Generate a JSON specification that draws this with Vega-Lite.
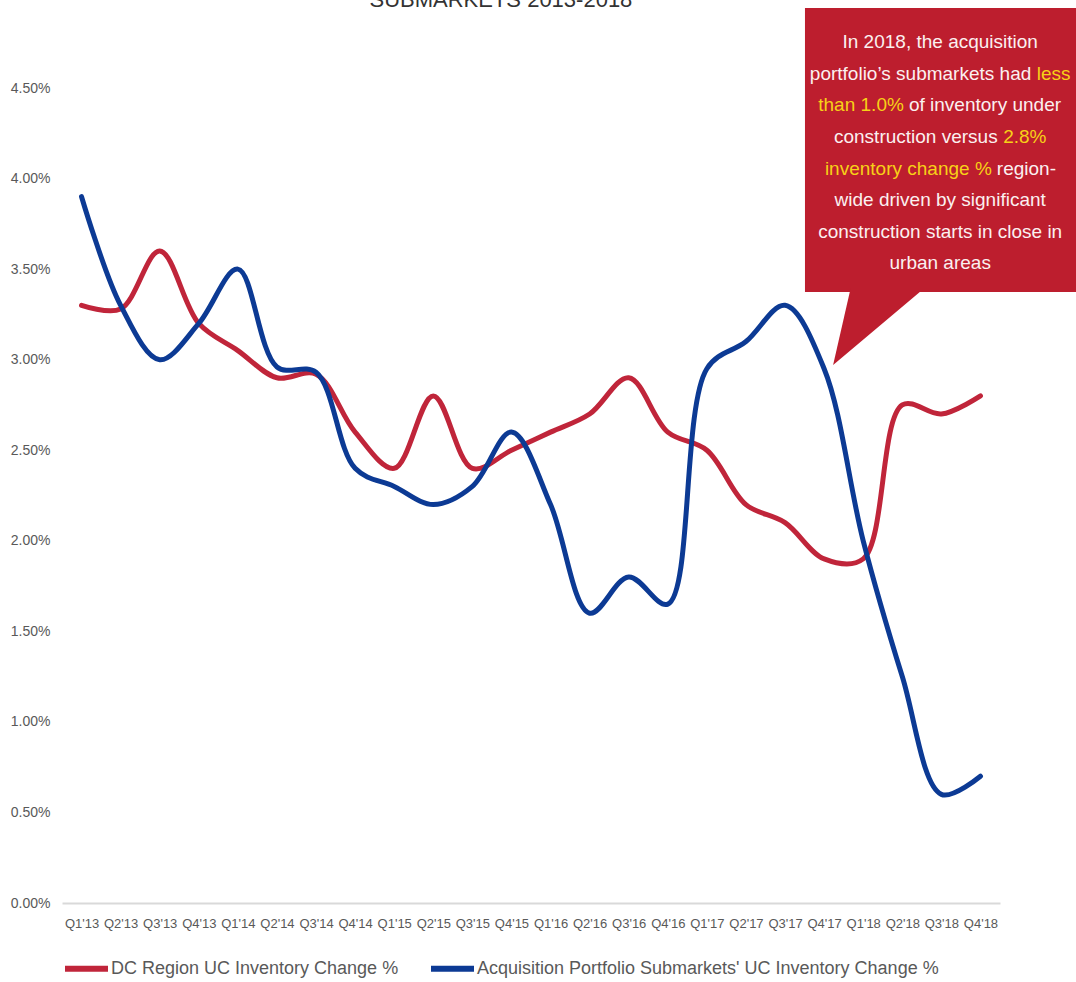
{
  "$schema": "https://vega.github.io/schema/vega-lite/v6.json",
  "width": 938,
  "height": 815,
  "autosize": {"type": "none"},
  "padding": {"left": 62, "top": 88, "right": 76, "bottom": 79},
  "background": "white",
  "config": {"view": {"stroke": null}, "font": "Liberation Sans"},
  "datasets": {
    "series": [
      {"quarter": "Q1'13", "i": 0, "series": "DC Region UC Inventory Change %", "value": 0.0330},
      {"quarter": "Q2'13", "i": 1, "series": "DC Region UC Inventory Change %", "value": 0.0328},
      {"quarter": "Q3'13", "i": 2, "series": "DC Region UC Inventory Change %", "value": 0.0360},
      {"quarter": "Q4'13", "i": 3, "series": "DC Region UC Inventory Change %", "value": 0.0320},
      {"quarter": "Q1'14", "i": 4, "series": "DC Region UC Inventory Change %", "value": 0.0305},
      {"quarter": "Q2'14", "i": 5, "series": "DC Region UC Inventory Change %", "value": 0.0290},
      {"quarter": "Q3'14", "i": 6, "series": "DC Region UC Inventory Change %", "value": 0.0292},
      {"quarter": "Q4'14", "i": 7, "series": "DC Region UC Inventory Change %", "value": 0.0260},
      {"quarter": "Q1'15", "i": 8, "series": "DC Region UC Inventory Change %", "value": 0.0240},
      {"quarter": "Q2'15", "i": 9, "series": "DC Region UC Inventory Change %", "value": 0.0280},
      {"quarter": "Q3'15", "i": 10, "series": "DC Region UC Inventory Change %", "value": 0.0240},
      {"quarter": "Q4'15", "i": 11, "series": "DC Region UC Inventory Change %", "value": 0.0250},
      {"quarter": "Q1'16", "i": 12, "series": "DC Region UC Inventory Change %", "value": 0.0260},
      {"quarter": "Q2'16", "i": 13, "series": "DC Region UC Inventory Change %", "value": 0.0270},
      {"quarter": "Q3'16", "i": 14, "series": "DC Region UC Inventory Change %", "value": 0.0290},
      {"quarter": "Q4'16", "i": 15, "series": "DC Region UC Inventory Change %", "value": 0.0260},
      {"quarter": "Q1'17", "i": 16, "series": "DC Region UC Inventory Change %", "value": 0.0250},
      {"quarter": "Q2'17", "i": 17, "series": "DC Region UC Inventory Change %", "value": 0.0220},
      {"quarter": "Q3'17", "i": 18, "series": "DC Region UC Inventory Change %", "value": 0.0210},
      {"quarter": "Q4'17", "i": 19, "series": "DC Region UC Inventory Change %", "value": 0.0190},
      {"quarter": "Q1'18", "i": 20, "series": "DC Region UC Inventory Change %", "value": 0.0190},
      {"quarter": "Q2'18", "i": 21, "series": "DC Region UC Inventory Change %", "value": 0.0275},
      {"quarter": "Q3'18", "i": 22, "series": "DC Region UC Inventory Change %", "value": 0.0270},
      {"quarter": "Q4'18", "i": 23, "series": "DC Region UC Inventory Change %", "value": 0.0280},
      {"quarter": "Q1'13", "i": 0, "series": "Acquisition Portfolio Submarkets'  UC Inventory Change %", "value": 0.0390},
      {"quarter": "Q2'13", "i": 1, "series": "Acquisition Portfolio Submarkets'  UC Inventory Change %", "value": 0.0330},
      {"quarter": "Q3'13", "i": 2, "series": "Acquisition Portfolio Submarkets'  UC Inventory Change %", "value": 0.0300},
      {"quarter": "Q4'13", "i": 3, "series": "Acquisition Portfolio Submarkets'  UC Inventory Change %", "value": 0.0320},
      {"quarter": "Q1'14", "i": 4, "series": "Acquisition Portfolio Submarkets'  UC Inventory Change %", "value": 0.0350},
      {"quarter": "Q2'14", "i": 5, "series": "Acquisition Portfolio Submarkets'  UC Inventory Change %", "value": 0.0296},
      {"quarter": "Q3'14", "i": 6, "series": "Acquisition Portfolio Submarkets'  UC Inventory Change %", "value": 0.0293},
      {"quarter": "Q4'14", "i": 7, "series": "Acquisition Portfolio Submarkets'  UC Inventory Change %", "value": 0.0240},
      {"quarter": "Q1'15", "i": 8, "series": "Acquisition Portfolio Submarkets'  UC Inventory Change %", "value": 0.0230},
      {"quarter": "Q2'15", "i": 9, "series": "Acquisition Portfolio Submarkets'  UC Inventory Change %", "value": 0.0220},
      {"quarter": "Q3'15", "i": 10, "series": "Acquisition Portfolio Submarkets'  UC Inventory Change %", "value": 0.0230},
      {"quarter": "Q4'15", "i": 11, "series": "Acquisition Portfolio Submarkets'  UC Inventory Change %", "value": 0.0260},
      {"quarter": "Q1'16", "i": 12, "series": "Acquisition Portfolio Submarkets'  UC Inventory Change %", "value": 0.0220},
      {"quarter": "Q2'16", "i": 13, "series": "Acquisition Portfolio Submarkets'  UC Inventory Change %", "value": 0.0160},
      {"quarter": "Q3'16", "i": 14, "series": "Acquisition Portfolio Submarkets'  UC Inventory Change %", "value": 0.0180},
      {"quarter": "Q4'16", "i": 15, "series": "Acquisition Portfolio Submarkets'  UC Inventory Change %", "value": 0.0165},
      {"quarter": "Q1'17", "i": 16, "series": "Acquisition Portfolio Submarkets'  UC Inventory Change %", "value": 0.0295},
      {"quarter": "Q2'17", "i": 17, "series": "Acquisition Portfolio Submarkets'  UC Inventory Change %", "value": 0.0310},
      {"quarter": "Q3'17", "i": 18, "series": "Acquisition Portfolio Submarkets'  UC Inventory Change %", "value": 0.0330},
      {"quarter": "Q4'17", "i": 19, "series": "Acquisition Portfolio Submarkets'  UC Inventory Change %", "value": 0.0295},
      {"quarter": "Q1'18", "i": 20, "series": "Acquisition Portfolio Submarkets'  UC Inventory Change %", "value": 0.0200},
      {"quarter": "Q2'18", "i": 21, "series": "Acquisition Portfolio Submarkets'  UC Inventory Change %", "value": 0.0125},
      {"quarter": "Q3'18", "i": 22, "series": "Acquisition Portfolio Submarkets'  UC Inventory Change %", "value": 0.0060},
      {"quarter": "Q4'18", "i": 23, "series": "Acquisition Portfolio Submarkets'  UC Inventory Change %", "value": 0.0070}
    ],
    "box": [{"i": 18.51, "i2": 25.45, "value": 0.04942, "value2": 0.03374}],
    "pointer": [
      {"value": 0.03396, "i": 19.68, "i2": 21.57},
      {"value": 0.02971, "i": 19.23, "i2": 19.23}
    ],
    "noteCenter": [
      {"i": 21.97, "value": 0.04754, "text": "In 2018, the acquisition"},
      {"i": 21.97, "value": 0.03882, "text": "wide driven by significant"},
      {"i": 21.97, "value": 0.03705, "text": "construction starts in close in"},
      {"i": 21.97, "value": 0.03534, "text": "urban areas"}
    ],
    "noteWhiteRight": [
      {"i": 24.30, "value": 0.04577, "text": "portfolio’s submarkets had"},
      {"i": 23.44, "value": 0.04229, "text": "construction versus"}
    ],
    "noteYellowLeft": [
      {"i": 24.44, "value": 0.04577, "text": "less"},
      {"i": 23.58, "value": 0.04229, "text": "2.8%"}
    ],
    "noteYellowRight": [
      {"i": 21.04, "value": 0.04406, "text": "than 1.0%"},
      {"i": 23.29, "value": 0.04053, "text": "inventory change %"}
    ],
    "noteWhiteLeft": [
      {"i": 21.17, "value": 0.04406, "text": "of inventory under"},
      {"i": 23.42, "value": 0.04053, "text": "region-"}
    ],
    "heading": [{"i": 10.73, "value": 0.04947, "text": "SUBMARKETS 2013-2018"}]
  },
  "layer": [
    {
      "data": {"name": "series"},
      "mark": {"type": "line", "interpolate": "catmull-rom", "strokeWidth": 5, "strokeCap": "round", "strokeJoin": "round"},
      "encoding": {
        "x": {
          "field": "i", "type": "quantitative",
          "scale": {"domain": [-0.5, 23.5], "nice": false, "zero": false},
          "axis": {
            "title": null,
            "values": [0,1,2,3,4,5,6,7,8,9,10,11,12,13,14,15,16,17,18,19,20,21,22,23],
            "labelExpr": "[\"Q1'13\",\"Q2'13\",\"Q3'13\",\"Q4'13\",\"Q1'14\",\"Q2'14\",\"Q3'14\",\"Q4'14\",\"Q1'15\",\"Q2'15\",\"Q3'15\",\"Q4'15\",\"Q1'16\",\"Q2'16\",\"Q3'16\",\"Q4'16\",\"Q1'17\",\"Q2'17\",\"Q3'17\",\"Q4'17\",\"Q1'18\",\"Q2'18\",\"Q3'18\",\"Q4'18\"][datum.value]",
            "grid": false, "ticks": false,
            "domain": true, "domainColor": "#D9D9D9", "domainWidth": 2,
            "labelFont": "Liberation Sans", "labelFontSize": 13, "labelColor": "#595959",
            "labelPadding": 14, "labelFlush": false, "labelOverlap": false, "labelBound": false
          }
        },
        "y": {
          "field": "value", "type": "quantitative",
          "scale": {"domain": [0, 0.045], "nice": false, "zero": true},
          "axis": {
            "title": null,
            "values": [0, 0.005, 0.01, 0.015, 0.02, 0.025, 0.03, 0.035, 0.04, 0.045],
            "format": ".2%",
            "grid": false, "ticks": false, "domain": false,
            "labelFont": "Liberation Sans", "labelFontSize": 14, "labelColor": "#595959",
            "labelPadding": 12
          }
        },
        "color": {
          "field": "series", "type": "nominal",
          "scale": {"domain": ["DC Region UC Inventory Change %", "Acquisition Portfolio Submarkets'  UC Inventory Change %"], "range": ["#C0253A", "#0C3A94"]},
          "legend": {
            "title": null, "orient": "none", "legendX": 0, "legendY": 856,
            "direction": "horizontal",
            "symbolType": "stroke", "symbolSize": 1849, "symbolStrokeWidth": 6,
            "labelFont": "Liberation Sans", "labelFontSize": 18, "labelColor": "#595959",
            "labelOffset": 0, "columnPadding": 20, "labelLimit": 600
          }
        }
      }
    },
    {
      "data": {"name": "box"},
      "mark": {"type": "rect", "color": "#BD1E2E", "clip": false},
      "encoding": {
        "x": {"field": "i", "type": "quantitative", "title": null, "scale": {"domain": [-0.5, 23.5], "nice": false, "zero": false}},
        "x2": {"field": "i2"},
        "y": {"field": "value", "type": "quantitative", "title": null, "scale": {"domain": [0, 0.045], "nice": false, "zero": true}},
        "y2": {"field": "value2"}
      }
    },
    {
      "data": {"name": "pointer"},
      "mark": {"type": "area", "orient": "horizontal", "color": "#BD1E2E", "interpolate": "linear"},
      "encoding": {
        "y": {"field": "value", "type": "quantitative", "title": null, "scale": {"domain": [0, 0.045], "nice": false, "zero": true}},
        "x": {"field": "i", "type": "quantitative", "title": null, "scale": {"domain": [-0.5, 23.5], "nice": false, "zero": false}},
        "x2": {"field": "i2"}
      }
    },
    {
      "data": {"name": "noteCenter"},
      "mark": {"type": "text", "align": "center", "baseline": "middle", "font": "Liberation Sans", "fontSize": 19, "color": "#FBF0F0"},
      "encoding": {
        "x": {"field": "i", "type": "quantitative", "title": null, "scale": {"domain": [-0.5, 23.5], "nice": false, "zero": false}},
        "y": {"field": "value", "type": "quantitative", "title": null, "scale": {"domain": [0, 0.045], "nice": false, "zero": true}},
        "text": {"field": "text"}
      }
    },
    {
      "data": {"name": "noteWhiteRight"},
      "mark": {"type": "text", "align": "right", "baseline": "middle", "font": "Liberation Sans", "fontSize": 19, "color": "#FBF0F0"},
      "encoding": {
        "x": {"field": "i", "type": "quantitative", "title": null, "scale": {"domain": [-0.5, 23.5], "nice": false, "zero": false}},
        "y": {"field": "value", "type": "quantitative", "title": null, "scale": {"domain": [0, 0.045], "nice": false, "zero": true}},
        "text": {"field": "text"}
      }
    },
    {
      "data": {"name": "noteWhiteLeft"},
      "mark": {"type": "text", "align": "left", "baseline": "middle", "font": "Liberation Sans", "fontSize": 19, "color": "#FBF0F0"},
      "encoding": {
        "x": {"field": "i", "type": "quantitative", "title": null, "scale": {"domain": [-0.5, 23.5], "nice": false, "zero": false}},
        "y": {"field": "value", "type": "quantitative", "title": null, "scale": {"domain": [0, 0.045], "nice": false, "zero": true}},
        "text": {"field": "text"}
      }
    },
    {
      "data": {"name": "noteYellowLeft"},
      "mark": {"type": "text", "align": "left", "baseline": "middle", "font": "Liberation Sans", "fontSize": 19, "color": "#F7D117"},
      "encoding": {
        "x": {"field": "i", "type": "quantitative", "title": null, "scale": {"domain": [-0.5, 23.5], "nice": false, "zero": false}},
        "y": {"field": "value", "type": "quantitative", "title": null, "scale": {"domain": [0, 0.045], "nice": false, "zero": true}},
        "text": {"field": "text"}
      }
    },
    {
      "data": {"name": "noteYellowRight"},
      "mark": {"type": "text", "align": "right", "baseline": "middle", "font": "Liberation Sans", "fontSize": 19, "color": "#F7D117"},
      "encoding": {
        "x": {"field": "i", "type": "quantitative", "title": null, "scale": {"domain": [-0.5, 23.5], "nice": false, "zero": false}},
        "y": {"field": "value", "type": "quantitative", "title": null, "scale": {"domain": [0, 0.045], "nice": false, "zero": true}},
        "text": {"field": "text"}
      }
    },
    {
      "data": {"name": "heading"},
      "mark": {"type": "text", "align": "center", "baseline": "alphabetic", "font": "Liberation Sans", "fontSize": 22, "color": "#333333"},
      "encoding": {
        "x": {"field": "i", "type": "quantitative", "title": null, "scale": {"domain": [-0.5, 23.5], "nice": false, "zero": false}},
        "y": {"field": "value", "type": "quantitative", "title": null, "scale": {"domain": [0, 0.045], "nice": false, "zero": true}},
        "text": {"field": "text"}
      }
    }
  ]
}
